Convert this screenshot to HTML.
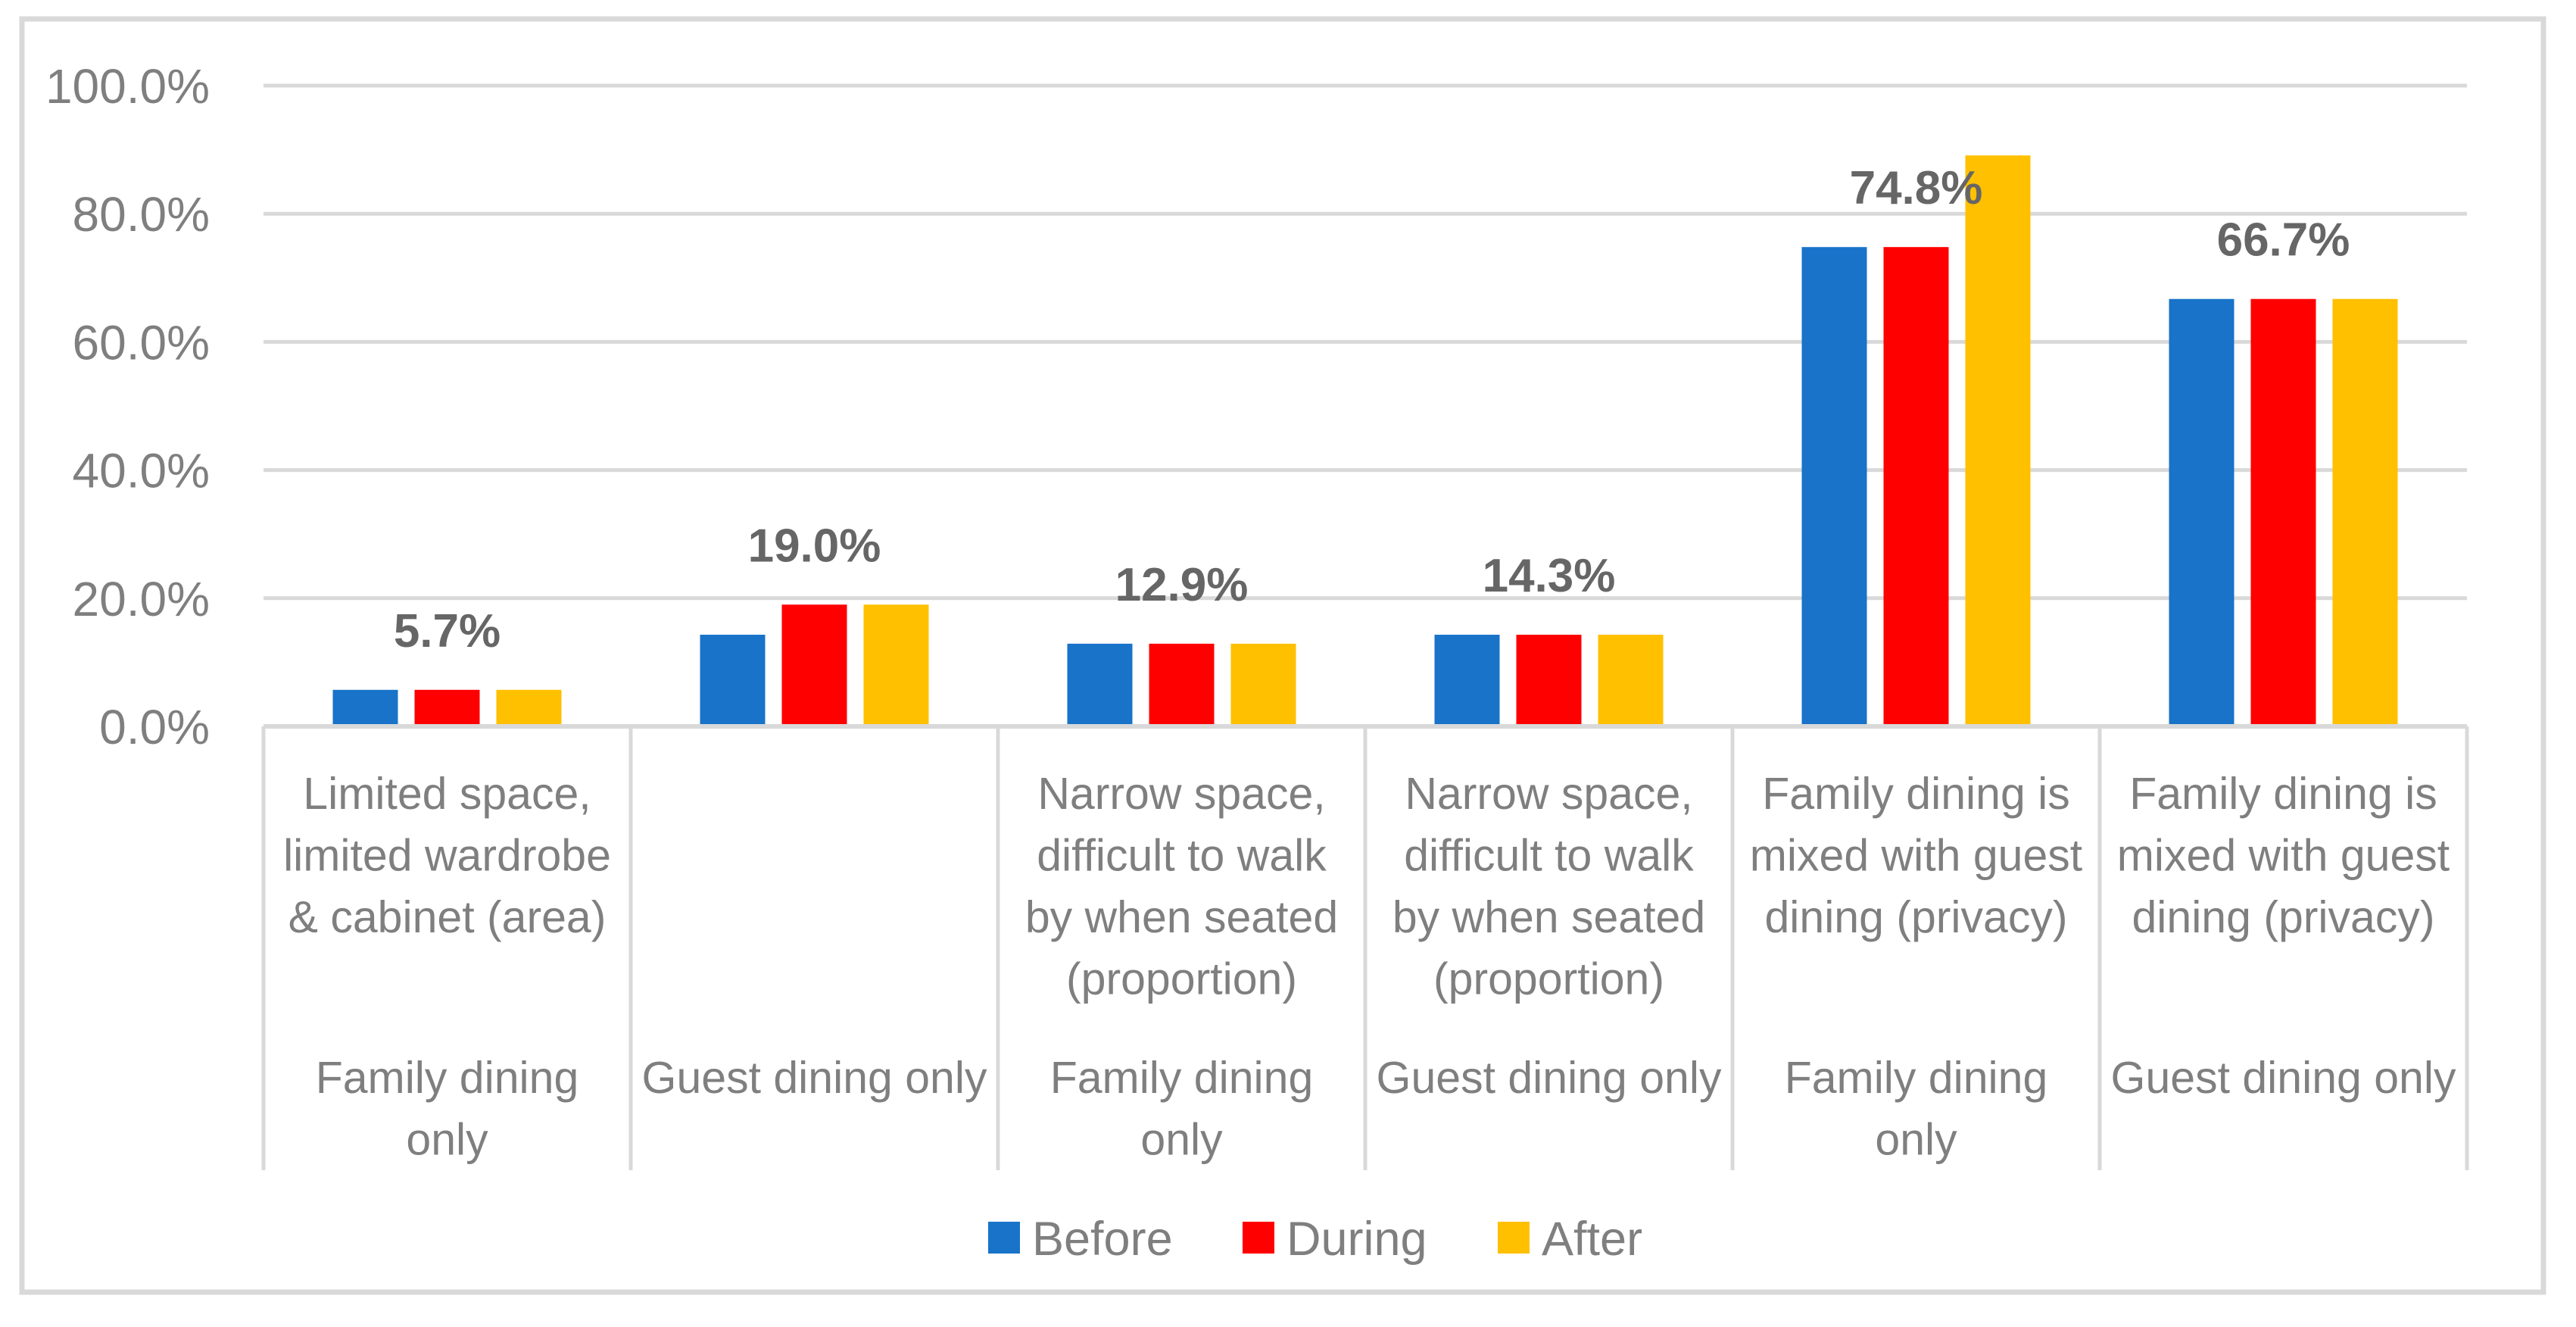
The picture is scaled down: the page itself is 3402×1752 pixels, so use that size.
<!DOCTYPE html>
<html><head><meta charset="utf-8"><style>
html,body{margin:0;padding:0;background:#fff;}
svg{display:block;font-family:"Liberation Sans",sans-serif;}
</style></head><body>
<svg id="chart" width="3402" height="1752" viewBox="0 0 3402 1752" xmlns="http://www.w3.org/2000/svg">
<rect x="29" y="25" width="3330" height="1681" fill="#fff" stroke="#d9d9d9" stroke-width="7"/>
<g id="grid"></g><g id="bars"></g><g id="labels"></g><g id="xaxis"></g><g id="legend"></g>
</svg>
<script>
const categories = [
  ["Limited space,","limited wardrobe","& cabinet (area)"],
  [],
  ["Narrow space,","difficult to walk","by when seated","(proportion)"],
  ["Narrow space,","difficult to walk","by when seated","(proportion)"],
  ["Family dining is","mixed with guest","dining (privacy)"],
  ["Family dining is","mixed with guest","dining (privacy)"]
];
const subCategories = [["Family dining","only"],["Guest dining only"],["Family dining","only"],["Guest dining only"],["Family dining","only"],["Guest dining only"]];
const seriesNames = ["Before","During","After"];
const before = [5.7, 14.3, 12.9, 14.3, 74.8, 66.7];
const during = [5.7, 19.0, 12.9, 14.3, 74.8, 66.7];
const after = [5.7, 19.0, 12.9, 14.3, 89.1, 66.7];
const dataLabels = ["5.7%","19.0%","12.9%","14.3%","74.8%","66.7%"];
const yTicks = [0,20,40,60,80,100];
const yTickLabels = ["0.0%","20.0%","40.0%","60.0%","80.0%","100.0%"];

const colors = ["#1873c9","#ff0000","#ffc000"];
const series = [before, during, after];
const NS = "http://www.w3.org/2000/svg";
const X0 = 348, X1 = 3258, Y0 = 959, Y100 = 113;
const catW = (X1 - X0) / categories.length;
const y = v => Y0 - (Y0 - Y100) * v / 100;
const xc = i => X0 + catW * (i + 0.5);
function mk(tag, attrs, parent, text){
  const e = document.createElementNS(NS, tag);
  for (const k in attrs) e.setAttribute(k, attrs[k]);
  if (text !== undefined) e.textContent = text;
  parent.appendChild(e); return e;
}
const grid = document.getElementById('grid'), bars = document.getElementById('bars'),
      labels = document.getElementById('labels'), xaxis = document.getElementById('xaxis'),
      legend = document.getElementById('legend');
yTicks.forEach((t, i) => {
  if (t > 0) {
    const l = mk('line', {x1:X0, x2:X1, y1:y(t), y2:y(t), stroke:'#d9d9d9', 'stroke-width':5}, grid);
    
    
  }
  const tx = mk('text', {x:277, y:y(t)+23, 'text-anchor':'end', 'font-size':64, fill:'#7f7f7f'}, grid, yTickLabels[i]);
  
  
});
const bw = 86, gap = 22;
series.forEach((s, si) => {
  s.forEach((v, i) => {
    const x = xc(i) - bw*1.5 - gap + si*(bw+gap);
    const r = mk('rect', {x:x, y:y(v), width:bw, height:Y0 - y(v), fill:colors[si]}, bars);
    
    
  });
});
during.forEach((v, i) => {
  const t = mk('text', {x:xc(i), y:y(v)-57, 'text-anchor':'middle', 'font-size':62, 'font-weight':'bold', fill:'#666'}, labels, dataLabels[i]);
  
  
});
const ax = mk('line', {x1:X0, x2:X1, y1:Y0, y2:Y0, stroke:'#d9d9d9', 'stroke-width':6}, xaxis);


for (let i = 0; i <= categories.length; i++) {
  const l = mk('line', {x1:X0+i*catW, x2:X0+i*catW, y1:Y0, y2:1545, stroke:'#d9d9d9', 'stroke-width':5}, xaxis);
  
  
}
categories.forEach((lines, i) => {
  lines.forEach((ln, j) => {
    const t = mk('text', {x:xc(i), y:1068 + j*81.5, 'text-anchor':'middle', 'font-size':59, fill:'#7f7f7f'}, xaxis, ln);
    
    
  });
  subCategories[i].forEach((ln, j) => {
    const t = mk('text', {x:xc(i), y:1443 + j*81.5, 'text-anchor':'middle', 'font-size':59, fill:'#7f7f7f'}, xaxis, ln);
    
    
  });
});
const legX = [1305, 1641, 1978];
seriesNames.forEach((n, i) => {
  const r = mk('rect', {x:legX[i], y:1613, width:42, height:42, fill:colors[i]}, legend);
  
  
  const t = mk('text', {x:legX[i]+58, y:1657, 'font-size':63, fill:'#7f7f7f'}, legend, n);
  
  
});
</script>
</body></html>
